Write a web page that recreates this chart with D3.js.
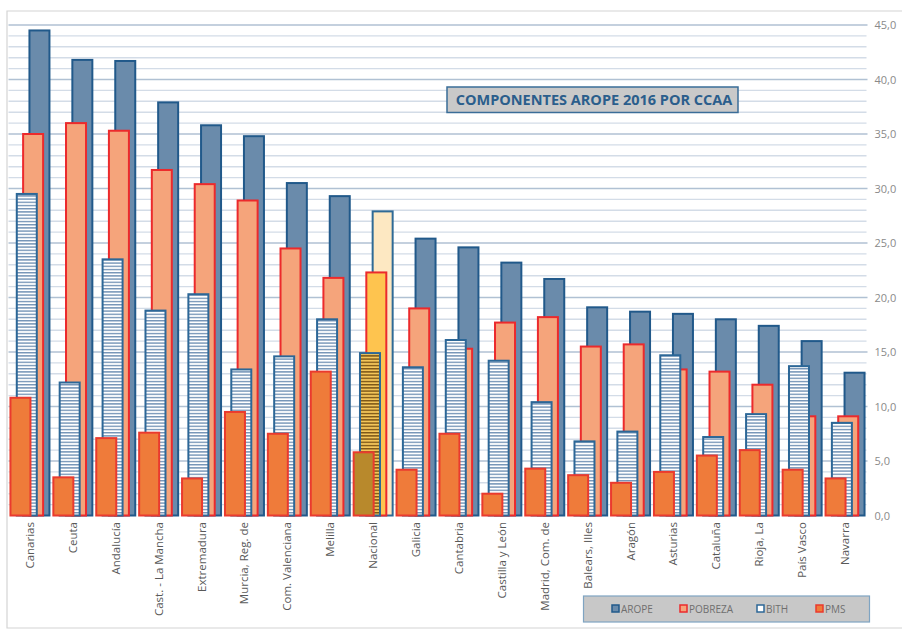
<!DOCTYPE html>
<html lang="es">
<head>
<meta charset="UTF-8">
<script src="https://d3js.org/d3.v7.min.js"></script>
<style>
    body {margin: 0; background: #ffffff}
    svg {display: block; font-family: "Open Sans", sans-serif}
</style>
</head>
<body>
<svg id="chart" width="902" height="630"></svg>
<script>
    // datos (ECV 2016, %)
    const regiones = ['Canarias', 'Ceuta', 'Andalucía', 'Cast. - La Mancha', 'Extremadura',
        'Murcia, Reg. de', 'Com. Valenciana', 'Melilla', 'Nacional', 'Galicia', 'Cantabria',
        'Castilla y León', 'Madrid, Com. de', 'Balears, Illes', 'Aragón', 'Asturias',
        'Cataluña', 'Rioja, La', 'País Vasco', 'Navarra'];
    const arope   = [44.5, 41.8, 41.7, 37.9, 35.8, 34.8, 30.5, 29.3, 27.9, 25.4, 24.6, 23.2, 21.7, 19.1, 18.7, 18.5, 18.0, 17.4, 16.0, 13.1];
    const pobreza = [35.0, 36.0, 35.3, 31.7, 30.4, 28.9, 24.5, 21.8, 22.3, 19.0, 15.3, 17.7, 18.2, 15.5, 15.7, 13.4, 13.2, 12.0, 9.1, 9.1];
    const bith    = [29.5, 12.2, 23.5, 18.8, 20.3, 13.4, 14.6, 18.0, 14.9, 13.6, 16.1, 14.2, 10.4, 6.8, 7.7, 14.7, 7.2, 9.3, 13.7, 8.5];
    const pms     = [10.8, 3.5, 7.1, 7.6, 3.4, 9.5, 7.5, 13.2, 5.8, 4.2, 7.5, 2.0, 4.3, 3.7, 3.0, 4.0, 5.5, 6.0, 4.2, 3.4];
    const ticks_y = [0, 5, 10, 15, 20, 25, 30, 35, 40, 45];
    const series_names = ['AROPE', 'POBREZA', 'BITH', 'PMS'];
    const titulo = 'COMPONENTES AROPE 2016 POR CCAA';

    const series = [
        {name: 'AROPE', values: arope, fill: '#6a8bab', stroke: '#21598a', nacFill: '#fde8c2', nacStroke: '#2f6a96'},
        {name: 'POBREZA', values: pobreza, fill: '#f5a47b', stroke: '#ec2a2c', nacFill: '#fec44f', nacStroke: '#ec2a2c'},
        {name: 'BITH', values: bith, fill: 'url(#stripes)', stroke: '#2c6797', nacFill: 'url(#stripesNac)', nacStroke: '#2c6797'},
        {name: 'PMS', values: pms, fill: '#ef7b3a', stroke: '#ea3a2e', nacFill: '#b8892c', nacStroke: '#ea3a2e'}
    ];

    const svg = d3.select('#chart');
    const plot_left = 8.5, plot_right = 866.5;

    const defs = svg.append('defs');
    const p1 = defs.append('pattern').attr('id', 'stripes').attr('patternUnits', 'userSpaceOnUse')
        .attr('width', 6).attr('height', 3.2);
    p1.append('rect').attr('width', 6).attr('height', 3.2).attr('fill', '#ffffff');
    p1.append('rect').attr('y', 0).attr('width', 6).attr('height', 1.4).attr('fill', '#7393b6');
    const p2 = defs.append('pattern').attr('id', 'stripesNac').attr('patternUnits', 'userSpaceOnUse')
        .attr('width', 6).attr('height', 3.2);
    p2.append('rect').attr('width', 6).attr('height', 3.2).attr('fill', '#f3c65a');
    p2.append('rect').attr('y', 0).attr('width', 6).attr('height', 1.4).attr('fill', '#7a5416');

    const x = d3.scaleBand().domain(regiones).range([plot_left, plot_right]).padding(0);
    const sub = d3.scalePoint().domain(['PMS', 'BITH', 'POBREZA', 'AROPE']).range([0, 19]);
    const bar_w = 20;
    const group_w = 19 + bar_w;
    const y = d3.scaleLinear().domain([0, 45]).range([515.5, 25]);

    // marco exterior
    svg.append('path').attr('d', 'M902,11H7V628H902').attr('fill', 'none')
        .attr('stroke', '#d4d4d4').attr('stroke-width', 1.2);

    // lineas de division menores y mayores
    svg.append('g').selectAll('line').data(d3.range(1, 46).filter(v => v % 5 !== 0))
        .enter().append('line')
        .attr('x1', plot_left).attr('x2', plot_right)
        .attr('y1', d => y(d)).attr('y2', d => y(d))
        .attr('stroke', '#d3dce7').attr('stroke-width', 1.4);
    svg.append('g').selectAll('line').data(ticks_y.filter(v => v > 0))
        .enter().append('line')
        .attr('x1', plot_left).attr('x2', plot_right + 1)
        .attr('y1', d => y(d)).attr('y2', d => y(d))
        .attr('stroke', '#b0c1d3').attr('stroke-width', 1.4);

    // barras
    series.forEach(function (s) {
        svg.append('g').selectAll('rect')
            .data(s.values)
            .enter()
            .append('rect')
            .attr('x', (d, i) => x(regiones[i]) + (x.bandwidth() - group_w) / 2 + sub(s.name))
            .attr('y', d => y(d))
            .attr('width', bar_w)
            .attr('height', d => y(0) - y(d))
            .attr('fill', (d, i) => regiones[i] === 'Nacional' ? s.nacFill : s.fill)
            .attr('stroke', (d, i) => regiones[i] === 'Nacional' ? s.nacStroke : s.stroke)
            .attr('stroke-width', 2);
    });

    // eje derecho
    const axis = svg.append('g').attr('transform', 'translate(' + (plot_right + 5) + ',0)')
        .call(d3.axisRight(y).tickValues(ticks_y).tickSize(0).tickPadding(3)
            .tickFormat(d => d.toFixed(1).replace('.', ',')));
    axis.select('.domain').remove();
    axis.selectAll('text').attr('fill', '#8a8a8a').style('font-size', '11px')
        .style('font-family', '"Open Sans", sans-serif');

    // etiquetas de categorias
    svg.append('g').selectAll('text').data(regiones).enter().append('text')
        .attr('transform', d => 'translate(' + (x(d) + x.bandwidth() / 2 + 4) + ',522) rotate(-90)')
        .attr('text-anchor', 'end')
        .attr('fill', '#595959')
        .style('font-size', '11.5px')
        .text(d => d);

    // titulo
    svg.append('rect').attr('x', 447).attr('y', 87).attr('width', 291).attr('height', 25.5)
        .attr('fill', '#c9c9c9').attr('stroke', '#3a6d98').attr('stroke-width', 1.5);
    svg.append('text').attr('x', 594).attr('y', 105).attr('text-anchor', 'middle')
        .attr('fill', '#2b5e8c').style('font-size', '14.5px').style('font-weight', 'bold')
        .text(titulo);

    // leyenda
    svg.append('rect').attr('x', 583.5).attr('y', 596).attr('width', 286).attr('height', 26)
        .attr('fill', '#c8c8c8').attr('stroke', '#7fa4c2').attr('stroke-width', 1.2);
    const legend_x = [612, 680, 757, 816];
    series_names.forEach(function (name, i) {
        const s = series.find(e => e.name === name);
        const g = svg.append('g').attr('transform', 'translate(' + legend_x[i] + ',605)');
        g.append('rect').attr('width', 7).attr('height', 7)
            .attr('fill', name === 'BITH' ? '#ffffff' : s.fill)
            .attr('stroke', s.stroke).attr('stroke-width', 1.5);
        g.append('text').attr('x', 9).attr('y', 7.5).attr('fill', '#6f6f6f')
            .style('font-size', '10px').text(name);
    });
</script>
</body>
</html>
